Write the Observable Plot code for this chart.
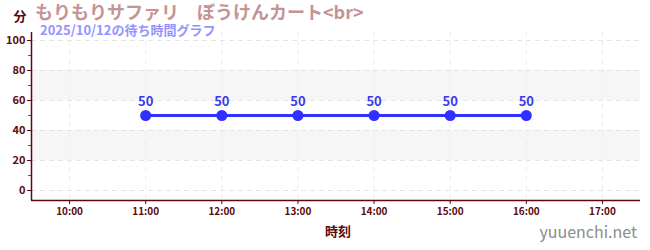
<!DOCTYPE html>
<html>
<head>
<meta charset="utf-8">
<script src="https://cdn.jsdelivr.net/npm/d3@7"></script>
<script src="https://cdn.jsdelivr.net/npm/@observablehq/plot@0.6"></script>
<style>
  body { margin: 0; background: #fff; }
  #chart svg { display: block; }
</style>
</head>
<body>
<div id="chart"></div>
<script>
// Wait times per hour
const times = ["11:00", "12:00", "13:00", "14:00", "15:00", "16:00"];
const waits = [50, 50, 50, 50, 50, 50];

// Axis ticks
const hourTicks = ["10:00", "11:00", "12:00", "13:00", "14:00", "15:00", "16:00", "17:00"];
const yTicks = [0, 20, 40, 60, 80, 100];
const yMinorTicks = [10, 30, 50, 70, 90];
const shadedBands = [[20, 40], [60, 80]];

// Texts
const title = "もりもりサファリ　ぼうけんカート<br>";
const subtitle = "2025/10/12の待ち時間グラフ";
const yUnit = "分";
const xLabel = "時刻";
const siteName = "yuuenchi.net";

const toHour = s => { const [h, m] = s.split(":").map(Number); return h + m / 60; };
const rows = times.map((t, i) => ({hour: toHour(t), wait: waits[i]}));
const hourTickValues = hourTicks.map(toHour);

const maroon = "#5a0b0b";
const blue = "#2f2fff";
const xDomain = [9.5, 17.5];
const yDomain = [-6.67, 105.33];

const chart = Plot.plot({
  width: 650,
  height: 250,
  marginTop: 32,
  marginBottom: 50,
  marginLeft: 31,
  marginRight: 10,
  style: {fontFamily: '"Noto Sans CJK JP", "Noto Sans", sans-serif', color: maroon, background: "#fff"},
  x: {domain: xDomain, axis: null},
  y: {domain: yDomain, axis: null},
  marks: [
    Plot.rect(shadedBands, {y1: d => d[0], y2: d => d[1], fill: "#f6f6f6"}),
    Plot.gridY(yTicks, {stroke: "#e4e4e4", strokeOpacity: 1, strokeDasharray: "5,4"}),
    Plot.gridX(hourTickValues, {stroke: "#ececec", strokeOpacity: 1, strokeDasharray: "5,4"}),
    Plot.axisY(yMinorTicks, {anchor: "left", tickSize: 3, stroke: "#dd2222", tickFormat: () => "", label: null}),
    Plot.axisY(yTicks, {anchor: "left", tickSize: 4, tickPadding: 2, fontSize: 11, fontWeight: "bold", label: null}),
    Plot.axisX(hourTickValues, {
      anchor: "bottom", tickSize: 4, tickPadding: 3, fontSize: 10, fontWeight: "bold", label: null,
      tickFormat: d => hourTicks[hourTickValues.indexOf(d)]
    }),
    Plot.ruleX([xDomain[0]], {stroke: maroon, strokeWidth: 1.5}),
    Plot.ruleY([yDomain[0]], {stroke: maroon, strokeWidth: 1.5}),
    Plot.line(rows, {x: "hour", y: "wait", stroke: blue, strokeWidth: 3}),
    Plot.dot(rows, {x: "hour", y: "wait", r: 5.5, fill: blue}),
    Plot.text(rows, {x: "hour", y: "wait", text: d => String(d.wait), dy: -14, fill: "#3a3aee", fontSize: 13, fontWeight: "bold"})
  ]
});

document.getElementById("chart").append(chart);

// Titles and labels around the plot area
const svg = d3.select(chart);
const addText = (x, y, str, attrs) => {
  const t = svg.append("text").attr("x", x).attr("y", y).text(str)
    .attr("font-family", '"Noto Sans CJK JP", "Noto Sans", sans-serif');
  Object.entries(attrs).forEach(([k, v]) => t.attr(k, v));
  return t;
};
addText(20, 17, yUnit, {"font-size": 13, "font-weight": "bold", fill: maroon, "text-anchor": "middle", "dominant-baseline": "middle"});
addText(35, 14, title, {"font-size": 18, "font-weight": "bold", fill: "#c49494", "text-anchor": "start", "dominant-baseline": "middle"});
addText(40, 31, subtitle, {"font-size": 13, "font-weight": "bold", fill: "#9494ff", "text-anchor": "start", "dominant-baseline": "middle"});
addText(338, 232, xLabel, {"font-size": 13, "font-weight": "bold", fill: maroon, "text-anchor": "middle", "dominant-baseline": "middle"});
addText(637, 234, siteName, {"font-size": 16, fill: "#8c8c8c", "text-anchor": "end", "dominant-baseline": "middle"});
</script>
</body>
</html>
